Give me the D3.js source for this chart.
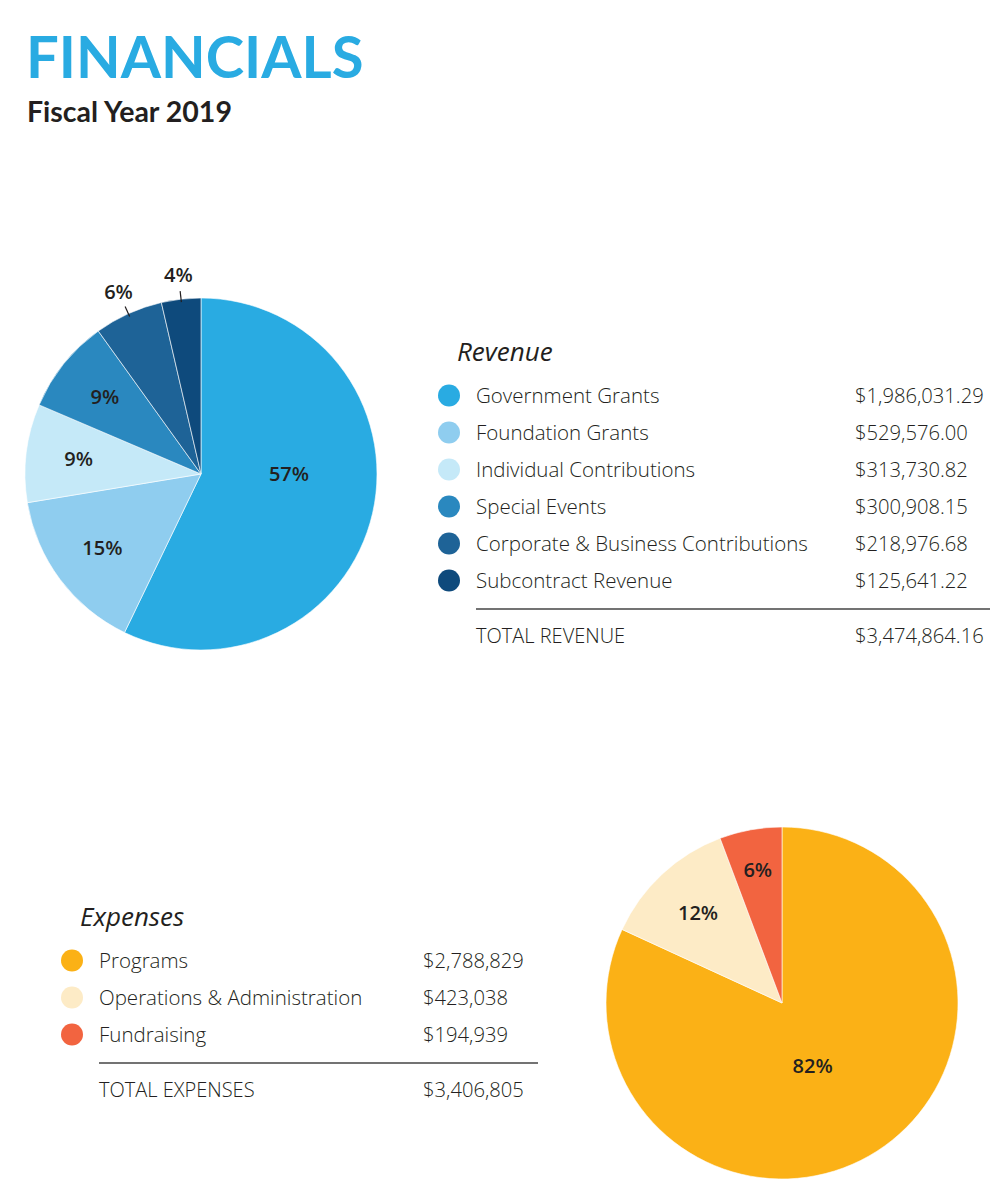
<!DOCTYPE html>
<html>
<head>
<meta charset="utf-8">
<script src="https://cdnjs.cloudflare.com/ajax/libs/d3/7.8.5/d3.min.js"></script>
<style>
  body { margin: 0; background: #fff; }
</style>
</head>
<body>
<svg class="chart"></svg>
<script>
// data
const revenueCategories = ["Government Grants", "Foundation Grants", "Individual Contributions",
  "Special Events", "Corporate & Business Contributions", "Subcontract Revenue"];
const revenueValues = [1986031.29, 529576.00, 313730.82, 300908.15, 218976.68, 125641.22];
const revenueTotal = 3474864.16;
const revenueColors = ["#29abe2", "#8fcdef", "#c5e9f8", "#2a88bf", "#1e6397", "#0e4a7c"];

const expenseCategories = ["Programs", "Operations & Administration", "Fundraising"];
const expenseValues = [2788829, 423038, 194939];
const expenseTotal = 3406805;
const expenseColors = ["#fbb116", "#fdebc6", "#f26440"];

const width = 1000, height = 1179;
const svg = d3.select(".chart").attr("width", width).attr("height", height);
const textColor = "#231f20";

svg.append("text")
  .attr("x", 26).attr("y", 78)
  .attr("fill", "#29abe2")
  .attr("font-family", "Lato").attr("font-weight", 700)
  .attr("font-size", 58)
  .text("FINANCIALS");

svg.append("text")
  .attr("x", 27).attr("y", 122)
  .attr("fill", textColor)
  .attr("font-family", "Lato").attr("font-weight", 700)
  .attr("font-size", 28.5)
  .text("Fiscal Year 2019");

// outside = put small slices' labels outside the pie with a tick
function drawPie(cx, cy, radius, values, colors, outside) {
  let g = svg.append("g").attr("transform", "translate(" + cx + "," + cy + ")");
  let total = d3.sum(values);
  let pie = d3.pie().sort(null)(values);
  let arc = d3.arc().innerRadius(0).outerRadius(radius);

  g.selectAll("path").data(pie).enter().append("path")
    .attr("d", arc)
    .attr("fill", (d, i) => colors[i])
    .attr("stroke", "#fff").attr("stroke-width", 0.6);

  pie.forEach(function(d) {
    let share = d.value / total;
    let a = (d.startAngle + d.endAngle) / 2;
    let r = radius * 0.7;
    if (share > 0.7) {
      r = radius * 0.4;
      a = a + 0.12;
    } else if (share > 0.5) {
      r = radius * 0.5;
      a = Math.PI / 2;
    } else if (outside && share < 0.065) {
      g.append("line")
        .attr("x1", Math.sin(a) * (radius - 3)).attr("y1", -Math.cos(a) * (radius - 3))
        .attr("x2", Math.sin(a) * (radius + 8)).attr("y2", -Math.cos(a) * (radius + 8))
        .attr("stroke", textColor).attr("stroke-width", 1.2);
      r = radius + 24;
    } else if (share < 0.065) {
      r = radius * 0.77;
    }
    g.append("text")
      .attr("x", Math.sin(a) * r).attr("y", -Math.cos(a) * r)
      .attr("dy", "0.35em")
      .attr("text-anchor", "middle")
      .attr("fill", textColor)
      .attr("font-family", "Open Sans").attr("font-weight", 600)
      .attr("font-size", 20)
      .text(Math.round(share * 100) + "%");
  });
}

function drawLegend(title, x, y, names, values, colors, total, fmt, lineEnd, valueX, totalLabel) {
  let g = svg.append("g").attr("transform", "translate(" + x + "," + y + ")");
  g.append("text")
    .attr("x", 8).attr("y", -15)
    .attr("fill", textColor)
    .attr("font-family", "Open Sans").attr("font-style", "italic")
    .attr("font-size", 26)
    .text(title);

  let rowY = d3.scaleBand().domain(d3.range(names.length)).range([0, names.length * 37]);
  let rows = g.selectAll("g.row").data(names).enter().append("g")
    .attr("transform", (d, i) => "translate(0," + (rowY(i) + 19.5) + ")");
  rows.append("circle").attr("cx", 0).attr("cy", 0).attr("r", 11)
    .attr("fill", (d, i) => colors[i]);
  rows.append("text").attr("x", 27).attr("dy", "0.35em")
    .attr("fill", textColor)
    .attr("font-family", "Open Sans").attr("font-weight", 300)
    .attr("font-size", 20.5)
    .text(d => d);
  rows.append("text").attr("x", valueX).attr("dy", "0.35em")
    .attr("fill", textColor)
    .attr("font-family", "Open Sans").attr("font-weight", 300)
    .attr("font-size", 20.2)
    .text((d, i) => fmt(values[i]));

  let lineY = names.length * 37 + 11;
  g.append("line")
    .attr("x1", 27).attr("x2", lineEnd)
    .attr("y1", lineY).attr("y2", lineY)
    .attr("stroke", "#444").attr("stroke-width", 1.3);
  g.append("text").attr("x", 27).attr("y", lineY + 27).attr("dy", "0.35em")
    .attr("fill", textColor)
    .attr("font-family", "Open Sans").attr("font-weight", 300)
    .attr("font-size", 20)
    .text(totalLabel);
  g.append("text").attr("x", valueX).attr("y", lineY + 27).attr("dy", "0.35em")
    .attr("fill", textColor)
    .attr("font-family", "Open Sans").attr("font-weight", 300)
    .attr("font-size", 20.2)
    .text(fmt(total));
}

drawPie(201, 474, 176, revenueValues, revenueColors, true);
drawPie(782, 1003, 176, expenseValues, expenseColors, false);

drawLegend("Revenue", 449, 376, revenueCategories, revenueValues, revenueColors,
  revenueTotal, d3.format("$,.2f"), 541, 406, "TOTAL REVENUE");
drawLegend("Expenses", 72, 941, expenseCategories, expenseValues, expenseColors,
  expenseTotal, d3.format("$,"), 466, 351, "TOTAL EXPENSES");
</script>
</body>
</html>
